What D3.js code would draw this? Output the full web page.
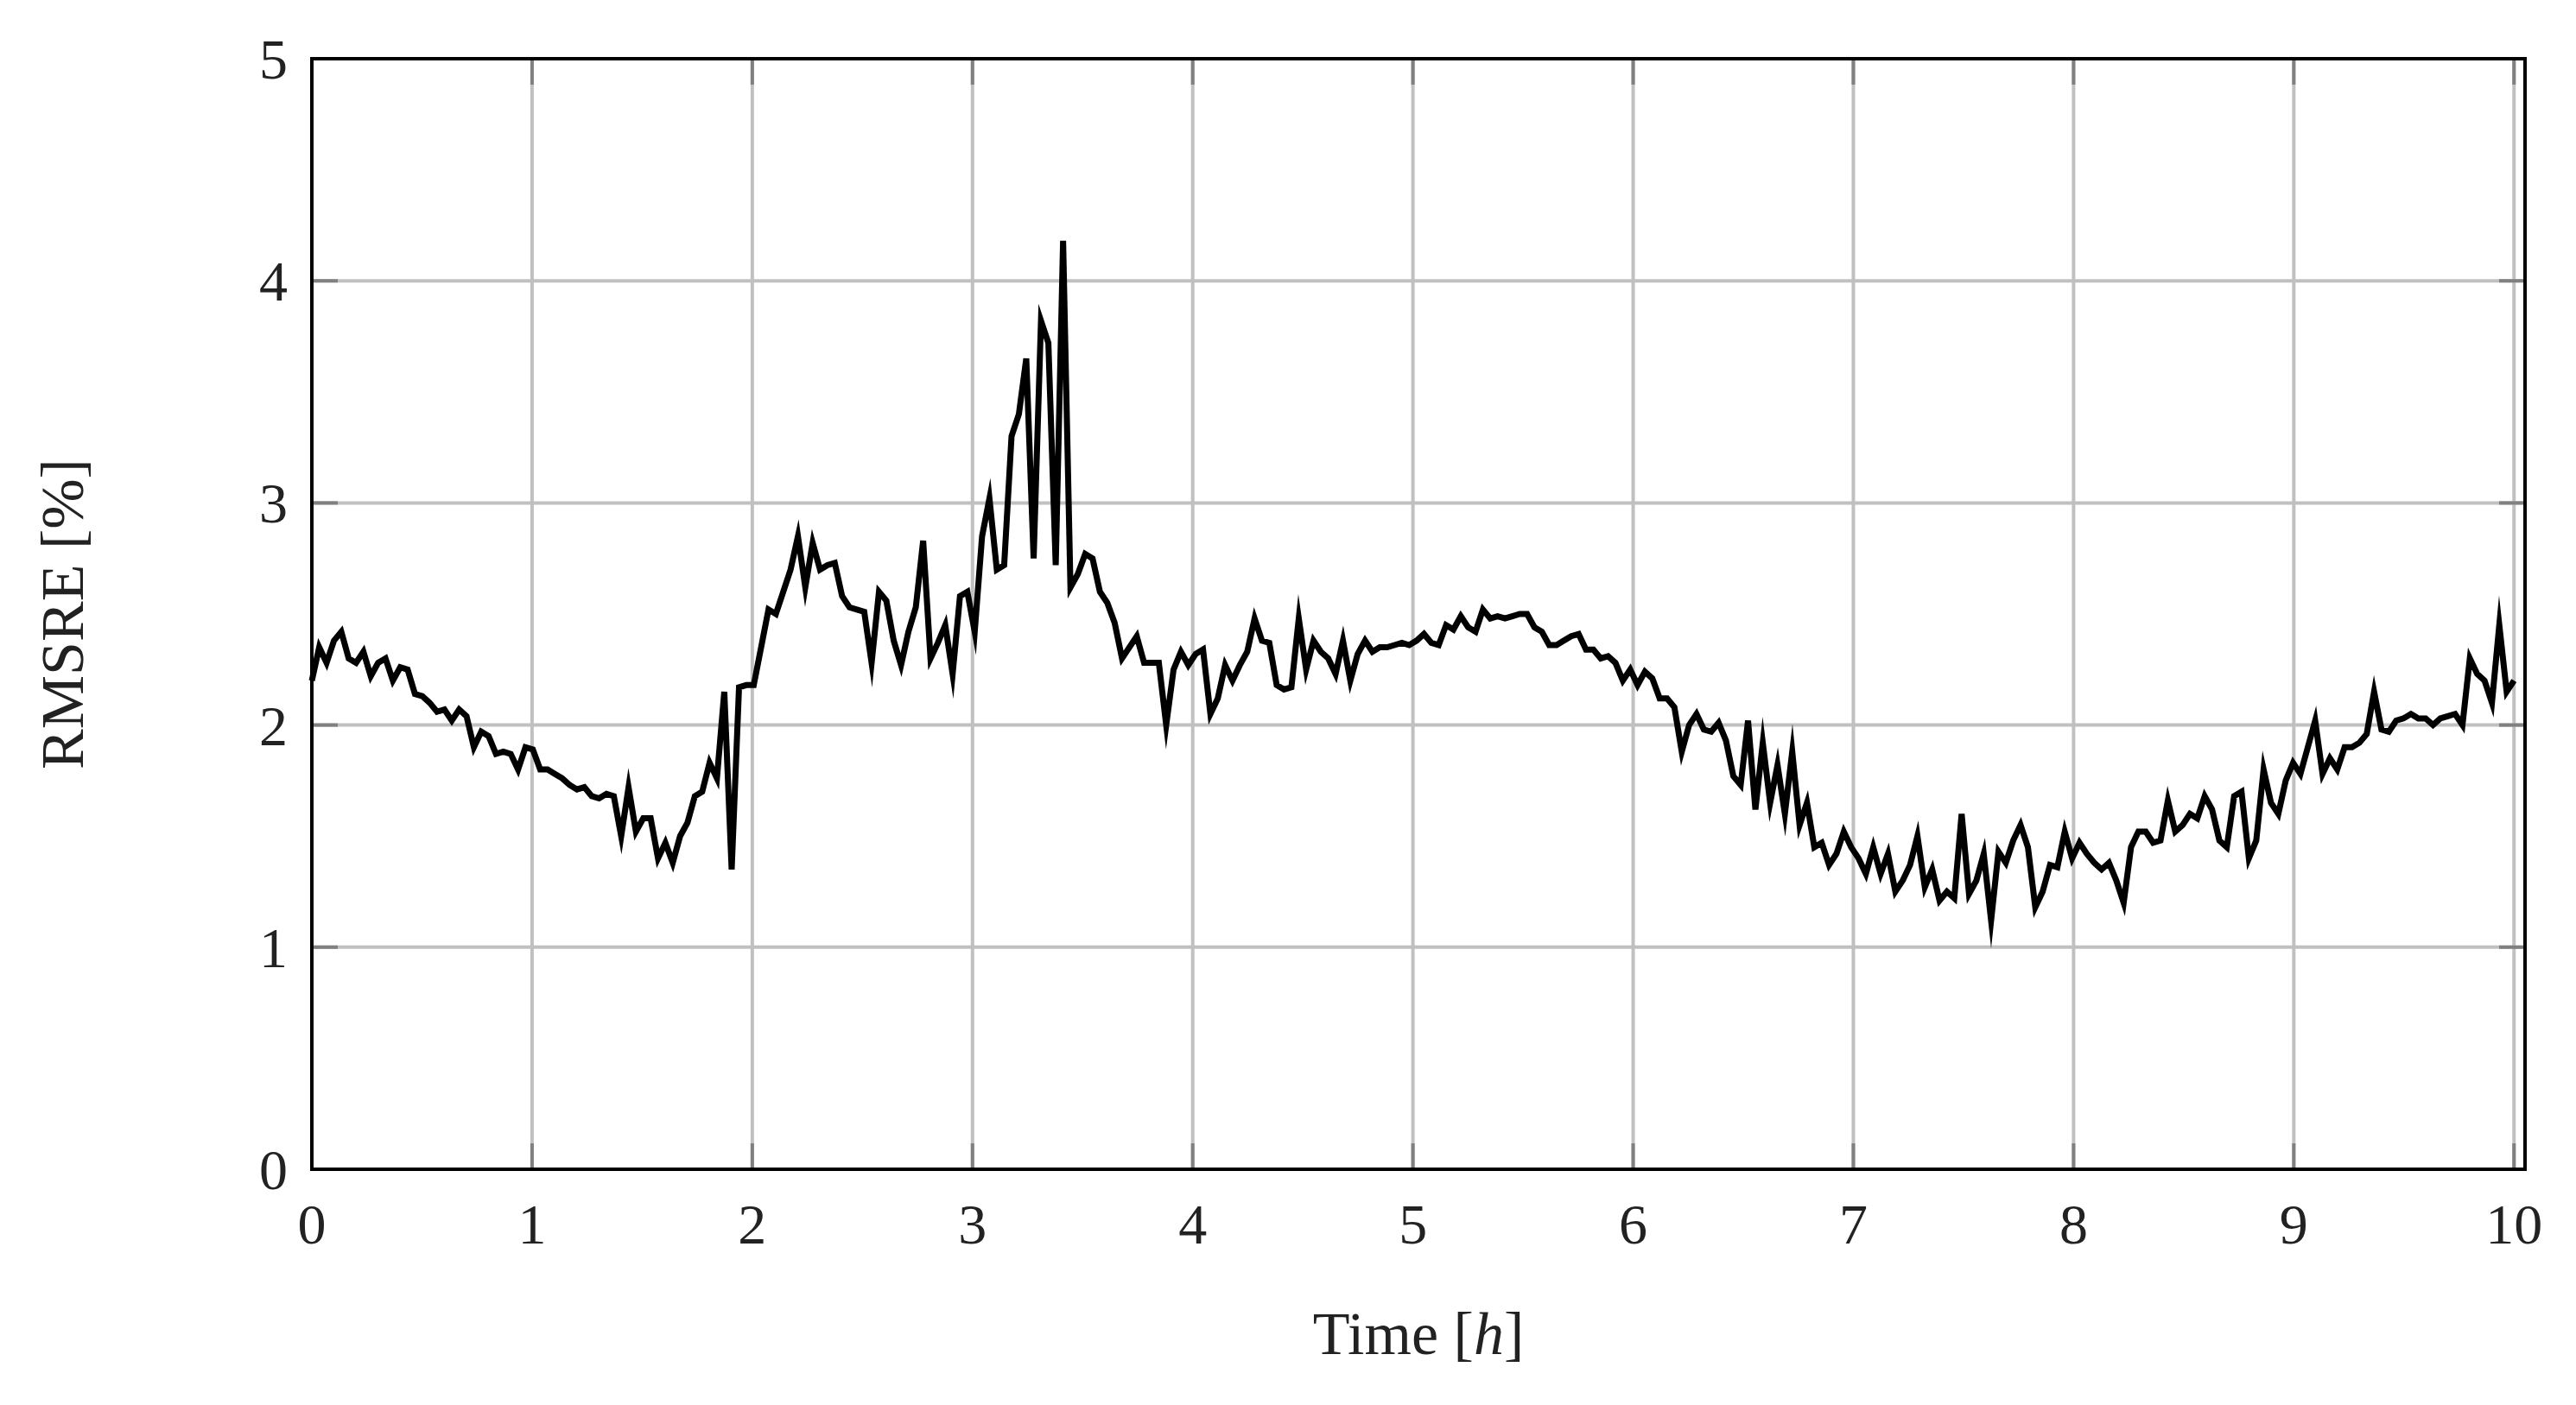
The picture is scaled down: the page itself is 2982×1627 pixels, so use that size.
<!DOCTYPE html>
<html>
<head>
<meta charset="utf-8">
<script src="https://cdn.jsdelivr.net/npm/d3@7"></script>
<style>
  body { margin: 0; background: #fff; }
  text { font-family: "Liberation Serif", "DejaVu Serif", serif; fill: #222; }
</style>
</head>
<body>
<svg id="chart" width="2982" height="1627"></svg>
<script>
// RMSRE [%] read per hour, ~30 samples per hour (dt = 1/30 h)
const hour0 = [2.2, 2.35, 2.28, 2.38, 2.42, 2.3, 2.28, 2.33, 2.22, 2.28, 2.3, 2.2, 2.26, 2.25, 2.14, 2.13, 2.1, 2.06, 2.07, 2.02, 2.07, 2.04, 1.9, 1.97, 1.95, 1.87, 1.88, 1.87, 1.8, 1.9];
const hour1 = [1.89, 1.8, 1.8, 1.78, 1.76, 1.73, 1.71, 1.72, 1.68, 1.67, 1.69, 1.68, 1.5, 1.72, 1.52, 1.58, 1.58, 1.4, 1.47, 1.38, 1.5, 1.56, 1.68, 1.7, 1.83, 1.76, 2.15, 1.35, 2.17, 2.18];
const hour2 = [2.18, 2.35, 2.52, 2.5, 2.6, 2.7, 2.85, 2.62, 2.82, 2.7, 2.72, 2.73, 2.58, 2.53, 2.52, 2.51, 2.28, 2.6, 2.56, 2.38, 2.27, 2.42, 2.53, 2.83, 2.3, 2.37, 2.45, 2.23, 2.58, 2.6];
const hour3 = [2.42, 2.85, 3.02, 2.7, 2.72, 3.3, 3.4, 3.65, 2.75, 3.82, 3.72, 2.72, 4.18, 2.62, 2.68, 2.77, 2.75, 2.6, 2.55, 2.46, 2.3, 2.35, 2.4, 2.28, 2.28, 2.28, 2.0, 2.25, 2.33, 2.27];
const hour4 = [2.32, 2.34, 2.05, 2.12, 2.27, 2.2, 2.27, 2.33, 2.48, 2.38, 2.37, 2.18, 2.16, 2.17, 2.48, 2.25, 2.38, 2.33, 2.3, 2.23, 2.38, 2.2, 2.32, 2.38, 2.33, 2.35, 2.35, 2.36, 2.37, 2.36];
const hour5 = [2.38, 2.41, 2.37, 2.36, 2.45, 2.43, 2.49, 2.44, 2.42, 2.52, 2.48, 2.49, 2.48, 2.49, 2.5, 2.5, 2.44, 2.42, 2.36, 2.36, 2.38, 2.4, 2.41, 2.34, 2.34, 2.3, 2.31, 2.28, 2.2, 2.25];
const hour6 = [2.18, 2.24, 2.21, 2.12, 2.12, 2.08, 1.88, 2.0, 2.05, 1.98, 1.97, 2.01, 1.93, 1.77, 1.73, 2.02, 1.62, 1.92, 1.65, 1.82, 1.6, 1.88, 1.55, 1.65, 1.45, 1.47, 1.37, 1.42, 1.52, 1.45];
const hour7 = [1.4, 1.33, 1.45, 1.33, 1.42, 1.25, 1.3, 1.37, 1.5, 1.27, 1.35, 1.21, 1.25, 1.22, 1.6, 1.24, 1.3, 1.42, 1.12, 1.43, 1.38, 1.48, 1.55, 1.45, 1.18, 1.25, 1.37, 1.36, 1.52, 1.4];
const hour8 = [1.47, 1.42, 1.38, 1.35, 1.38, 1.3, 1.2, 1.45, 1.52, 1.52, 1.47, 1.48, 1.66, 1.52, 1.55, 1.6, 1.58, 1.68, 1.62, 1.48, 1.45, 1.68, 1.7, 1.4, 1.48, 1.8, 1.65, 1.6, 1.75, 1.83];
const hour9 = [1.78, 1.9, 2.02, 1.78, 1.85, 1.8, 1.9, 1.9, 1.92, 1.96, 2.15, 1.98, 1.97, 2.02, 2.03, 2.05, 2.03, 2.03, 2.0, 2.03, 2.04, 2.05, 2.0, 2.3, 2.23, 2.2, 2.1, 2.45, 2.15, 2.2];
const xTicks = [0, 1, 2, 3, 4, 5, 6, 7, 8, 9, 10];
const yTicks = [0, 1, 2, 3, 4, 5];

const series = [hour0, hour1, hour2, hour3, hour4, hour5, hour6, hour7, hour8, hour9]
  .flat()
  .map((v, i) => ({ t: i / 29.9, v: v }));

const svg = d3.select("#chart");
const mLeft = 361, mRight = 2923, mTop = 68, mBottom = 1354;

const x = d3.scaleLinear().domain([0, 10.05]).range([mLeft, mRight]);
const y = d3.scaleLinear().domain([0, 5]).range([mBottom, mTop]);

// grid
svg.append("g").selectAll("line").data(xTicks).join("line")
  .attr("x1", d => x(d)).attr("x2", d => x(d))
  .attr("y1", mTop).attr("y2", mBottom)
  .attr("stroke", "#c0c0c0").attr("stroke-width", 4);
svg.append("g").selectAll("line").data(yTicks).join("line")
  .attr("x1", mLeft).attr("x2", mRight)
  .attr("y1", d => y(d)).attr("y2", d => y(d))
  .attr("stroke", "#c0c0c0").attr("stroke-width", 4);

// inner tick marks on all sides
const tk = 30;
const ticks = svg.append("g").attr("stroke", "#808080").attr("stroke-width", 4);
ticks.selectAll(".yl").data(yTicks).join("line").attr("class", "yl")
  .attr("x1", mLeft).attr("x2", mLeft + tk).attr("y1", d => y(d)).attr("y2", d => y(d));
ticks.selectAll(".yr").data(yTicks).join("line").attr("class", "yr")
  .attr("x1", mRight - tk).attr("x2", mRight).attr("y1", d => y(d)).attr("y2", d => y(d));
ticks.selectAll(".xb").data(xTicks).join("line").attr("class", "xb")
  .attr("x1", d => x(d)).attr("x2", d => x(d)).attr("y1", mBottom).attr("y2", mBottom - tk);
ticks.selectAll(".xt").data(xTicks).join("line").attr("class", "xt")
  .attr("x1", d => x(d)).attr("x2", d => x(d)).attr("y1", mTop).attr("y2", mTop + tk);

// data line
const line = d3.line().x(d => x(d.t)).y(d => y(d.v));
svg.append("path").datum(series)
  .attr("d", line)
  .attr("fill", "none").attr("stroke", "#000")
  .attr("stroke-width", 7).attr("stroke-linejoin", "miter").attr("stroke-miterlimit", 10);

// frame
svg.append("rect")
  .attr("x", mLeft).attr("y", mTop).attr("width", mRight - mLeft).attr("height", mBottom - mTop)
  .attr("fill", "none").attr("stroke", "#000").attr("stroke-width", 4);

// tick labels
svg.append("g").selectAll("text").data(xTicks).join("text")
  .attr("x", d => x(d)).attr("y", 1440)
  .attr("text-anchor", "middle").attr("font-size", 66)
  .text(d => d);
svg.append("g").selectAll("text").data(yTicks).join("text")
  .attr("x", 333).attr("y", d => y(d) + 23)
  .attr("text-anchor", "end").attr("font-size", 66)
  .text(d => d);

// axis titles
const xl = svg.append("text")
  .attr("x", (mLeft + mRight) / 2).attr("y", 1568)
  .attr("text-anchor", "middle").attr("font-size", 70);
xl.append("tspan").text("Time [");
xl.append("tspan").attr("font-style", "italic").text("h");
xl.append("tspan").text("]");

svg.append("text")
  .attr("transform", `translate(96, ${(mTop + mBottom) / 2}) rotate(-90)`)
  .attr("text-anchor", "middle").attr("font-size", 70)
  .text("RMSRE [%]");
</script>
</body>
</html>
